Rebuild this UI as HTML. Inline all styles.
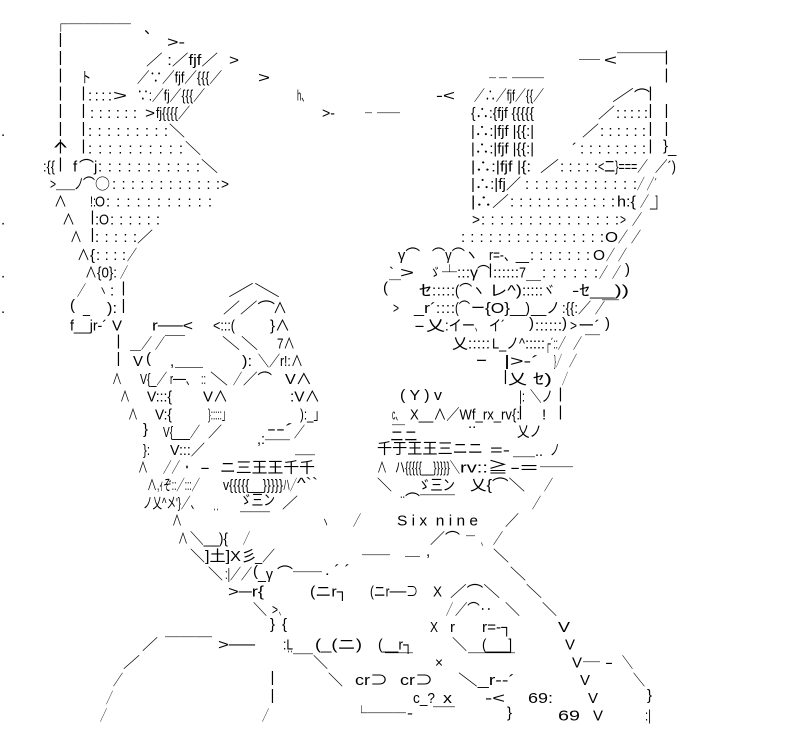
<!DOCTYPE html>
<html><head><meta charset="utf-8"><style>
html,body{margin:0;padding:0;background:#fff}
svg{display:block}
text{font-family:"Liberation Sans","Noto Sans CJK JP",sans-serif;font-size:15px;fill:#000;white-space:pre}
.j{font-family:"Noto Sans CJK JP","Liberation Sans",sans-serif}
</style></head><body>
<svg xmlns="http://www.w3.org/2000/svg" width="799" height="750" viewBox="0 0 799 750">
<rect width="799" height="750" fill="#fff"/>
<!-- R0 -->
<text class="j" x="53" y="29.7" textLength="78" lengthAdjust="spacingAndGlyphs">┌────</text>
<text class="j" x="144" y="33">、</text>
<!-- left bar rows 1-8 -->
<text x="58.5" y="44.2">|</text><text x="58.5" y="61.9">|</text><text x="58.5" y="79.7">|</text><text x="58.5" y="97.4">|</text><text x="58.5" y="115.1">|</text><text x="58.5" y="132.8">|</text><text x="58.5" y="150.5">|</text><text x="58.5" y="168.3">|</text>
<!-- R1 -->
<text x="167" y="47.2" textLength="18" lengthAdjust="spacingAndGlyphs">&gt;‐</text>
<!-- R2 -->
<text x="146" y="64.9" textLength="72" lengthAdjust="spacingAndGlyphs">／ :／fjf／</text>
<text x="229" y="64.9" textLength="10" lengthAdjust="spacingAndGlyphs">&gt;</text>
<text class="j" x="579" y="65.1" textLength="21" lengthAdjust="spacingAndGlyphs">──</text>
<text x="604" y="64.9" textLength="13" lengthAdjust="spacingAndGlyphs">&lt;</text>
<text class="j" x="617" y="58.7" textLength="50" lengthAdjust="spacingAndGlyphs">────</text>
<text x="664.5" y="61.5">|</text>
<!-- R3 -->
<text x="664.5" y="79.7">|</text>
<text class="j" x="81" y="82.7" textLength="10" lengthAdjust="spacingAndGlyphs">ト</text>
<text x="137" y="82.7" textLength="85" lengthAdjust="spacingAndGlyphs">／∵／fjf／{{{／</text>
<text x="258" y="82.7" textLength="12" lengthAdjust="spacingAndGlyphs">&gt;</text>
<text class="j" x="489" y="83.7" textLength="7" lengthAdjust="spacingAndGlyphs">─</text>
<text class="j" x="499" y="83.7" textLength="8" lengthAdjust="spacingAndGlyphs">─</text>
<text class="j" x="512" y="83.7" textLength="32" lengthAdjust="spacingAndGlyphs">──</text>
<!-- R4 -->
<text x="81.5" y="97.4">|</text>
<text x="88" y="100.4" textLength="24" lengthAdjust="spacing">::::</text>
<text x="113" y="100.4" textLength="14" lengthAdjust="spacingAndGlyphs">&gt;</text>
<text x="137" y="100.4" textLength="68" lengthAdjust="spacingAndGlyphs">∵:／fj／{{{／</text>
<text x="297" y="100.4" textLength="12" lengthAdjust="spacingAndGlyphs">h、</text>
<text x="436" y="100.4" textLength="19" lengthAdjust="spacingAndGlyphs">‐&lt;</text>
<text x="474" y="100.4" textLength="70" lengthAdjust="spacingAndGlyphs">／∴／fjf／{{／</text>
<text class="j" x="612" y="100.4" textLength="22" lengthAdjust="spacingAndGlyphs">／</text>
<text class="j" x="634" y="101" textLength="16" lengthAdjust="spacingAndGlyphs">⌒</text>
<text x="648.5" y="97.4">|</text>
<!-- R5 -->
<text x="81.5" y="115.1">|</text>
<text x="90" y="118.1" textLength="47" lengthAdjust="spacing">::::::</text>
<text x="145" y="118.1" textLength="10" lengthAdjust="spacingAndGlyphs">&gt;</text>
<text x="156" y="118.1" textLength="34" lengthAdjust="spacingAndGlyphs">fj{{{{／</text>
<text x="322" y="118.1" textLength="13" lengthAdjust="spacingAndGlyphs">&gt;‐</text>
<text class="j" x="365" y="118.7" textLength="7" lengthAdjust="spacingAndGlyphs">─</text>
<text class="j" x="377" y="118.7" textLength="23" lengthAdjust="spacingAndGlyphs">──</text>
<text x="471" y="118.1" textLength="63" lengthAdjust="spacingAndGlyphs">{∴:{fjf {{{{{</text>
<text x="598" y="118.1" textLength="17" lengthAdjust="spacingAndGlyphs">／</text>
<text x="616" y="118.1" textLength="32" lengthAdjust="spacing">:::::</text>
<text x="648.5" y="115.1">|</text>
<text x="664.5" y="115.1">|</text>
<!-- R6 -->
<text x="1" y="135.8">.</text>
<text x="81.5" y="132.8">|</text>
<text x="88" y="135.8" textLength="80" lengthAdjust="spacing">:::::::::</text>
<text x="169" y="135.8" textLength="16" lengthAdjust="spacingAndGlyphs">＼</text>
<text x="471" y="135.8" textLength="63" lengthAdjust="spacingAndGlyphs">|∴:|fjf |{{:|</text>
<text x="582" y="135.8" textLength="17" lengthAdjust="spacingAndGlyphs">／</text>
<text x="600" y="135.8" textLength="46" lengthAdjust="spacing">::::::</text>
<text x="648.5" y="132.8">|</text>
<text x="664.5" y="132.8">|</text>
<!-- R7 -->
<text x="54" y="152.5" textLength="13" lengthAdjust="spacingAndGlyphs">^</text>
<text x="81.5" y="150.5">|</text>
<text x="88" y="153.5" textLength="95" lengthAdjust="spacing">::::::::::</text>
<text x="185" y="153.5" textLength="16" lengthAdjust="spacingAndGlyphs">＼</text>
<text x="471" y="153.5" textLength="63" lengthAdjust="spacingAndGlyphs">|∴:|fjf |{{:|</text>
<text x="572" y="153.5">´</text>
<text x="580" y="153.5" textLength="66" lengthAdjust="spacing">::::::::</text>
<text x="648.5" y="150.5">|</text>
<text x="663" y="150.5">}</text>
<text x="668" y="153">_</text>
<!-- R8 -->
<text x="43" y="171.3" textLength="12" lengthAdjust="spacingAndGlyphs">:{{</text>
<text x="73" y="171.3">f</text>
<text class="j" x="79" y="171.3" textLength="15" lengthAdjust="spacingAndGlyphs">⌒</text>
<text x="94" y="171.3">j</text>
<text x="98" y="171.3" textLength="102" lengthAdjust="spacing">:::::::::::</text>
<text x="201" y="171.3" textLength="17" lengthAdjust="spacingAndGlyphs">＼</text>
<text x="471" y="171.3" textLength="60" lengthAdjust="spacingAndGlyphs">|∴:|fjf |{:</text>
<text x="540" y="171.3" textLength="19" lengthAdjust="spacingAndGlyphs">／</text>
<text x="560" y="171.3" textLength="38" lengthAdjust="spacing">:::::</text>
<text x="598" y="171.3" textLength="50" lengthAdjust="spacingAndGlyphs">&lt;二}===／</text>
<text x="655" y="171.3" textLength="21" lengthAdjust="spacingAndGlyphs">／´)</text>
<!-- R9 -->
<text x="50" y="189" textLength="6" lengthAdjust="spacingAndGlyphs">&gt;</text>
<text class="j" x="56" y="195.7" textLength="19" lengthAdjust="spacingAndGlyphs">─</text>
<text class="j" x="74" y="189" textLength="10" lengthAdjust="spacingAndGlyphs">ノ</text>
<text class="j" x="83" y="189" textLength="12" lengthAdjust="spacingAndGlyphs">⌒</text>
<text class="j" x="95" y="189" textLength="15" lengthAdjust="spacingAndGlyphs">○</text>
<text x="112" y="189" textLength="108" lengthAdjust="spacing">::::::::::::</text>
<text x="221" y="189" textLength="8" lengthAdjust="spacingAndGlyphs">&gt;</text>
<text x="471" y="189" textLength="50" lengthAdjust="spacingAndGlyphs">|∴:|fj／</text>
<text x="525" y="189" textLength="112" lengthAdjust="spacing">::::::::::::</text>
<text x="637" y="189" textLength="20" lengthAdjust="spacingAndGlyphs">／ ／´</text>
<!-- R10 -->
<text x="54" y="206.7" textLength="13" lengthAdjust="spacingAndGlyphs">∧</text>
<text x="90" y="206.7" textLength="6" lengthAdjust="spacingAndGlyphs">!:</text>
<text x="95" y="206.7" textLength="10" lengthAdjust="spacingAndGlyphs">O</text>
<text x="106" y="206.7" textLength="106" lengthAdjust="spacing">:::::::::::</text>
<text x="471" y="206.7" textLength="38" lengthAdjust="spacingAndGlyphs">|∴／</text>
<text x="510" y="206.7" textLength="105" lengthAdjust="spacing">::::::::::::</text>
<text x="617" y="206.7" textLength="19" lengthAdjust="spacingAndGlyphs">h:{</text>
<text x="640" y="206.7" textLength="9" lengthAdjust="spacingAndGlyphs">／</text>
<text x="650" y="206.7" textLength="8" lengthAdjust="spacingAndGlyphs">_]</text>
<!-- R11 -->
<text x="1" y="224.4">.</text>
<text x="62" y="224.4" textLength="13" lengthAdjust="spacingAndGlyphs">∧</text>
<text x="90.5" y="221.4">|</text>
<text x="95" y="224.4">:</text>
<text x="99" y="224.4" textLength="10" lengthAdjust="spacingAndGlyphs">O</text>
<text x="110" y="224.4" textLength="50" lengthAdjust="spacing">::::::</text>
<text x="472" y="224.4" textLength="8" lengthAdjust="spacingAndGlyphs">&gt;</text>
<text x="481" y="224.4" textLength="138" lengthAdjust="spacing">:::::::::::::::</text>
<text x="620" y="224.4" textLength="6" lengthAdjust="spacingAndGlyphs">&gt;</text>
<text x="632" y="224.4" textLength="10" lengthAdjust="spacingAndGlyphs">／</text>
<!-- R12 -->
<text x="70" y="242.1" textLength="12" lengthAdjust="spacingAndGlyphs">∧</text>
<text x="90.5" y="239.1">|</text>
<text x="95" y="242.1" textLength="42" lengthAdjust="spacing">:::::</text>
<text x="137" y="242.1" textLength="16" lengthAdjust="spacingAndGlyphs">／</text>
<text x="461" y="242.1" textLength="143" lengthAdjust="spacing">::::::::::::::::</text>
<text x="605" y="242.1" textLength="13" lengthAdjust="spacingAndGlyphs">O</text>
<text x="618" y="242.1" textLength="10" lengthAdjust="spacingAndGlyphs">／</text>
<text x="631" y="242.1" textLength="10" lengthAdjust="spacingAndGlyphs">／</text>
<!-- R13 -->
<text x="77" y="259.9" textLength="13" lengthAdjust="spacingAndGlyphs">∧</text>
<text x="90" y="259.9" textLength="5" lengthAdjust="spacingAndGlyphs">{</text>
<text x="96" y="259.9" textLength="30" lengthAdjust="spacing">::::</text>
<text x="127" y="259.9" textLength="10" lengthAdjust="spacingAndGlyphs">／</text>
<text x="398" y="259.9" textLength="22" lengthAdjust="spacingAndGlyphs">γ⌒</text>
<text x="432" y="259.9" textLength="46" lengthAdjust="spacingAndGlyphs">⌒γ⌒ヽ</text>
<text x="489" y="259.9" textLength="40" lengthAdjust="spacingAndGlyphs">r=‐、__</text>
<text x="530" y="259.9" textLength="60" lengthAdjust="spacing">:::::::</text>
<text x="593" y="259.9" textLength="12" lengthAdjust="spacingAndGlyphs">O</text>
<text x="606" y="259.9" textLength="9" lengthAdjust="spacingAndGlyphs">／</text>
<text x="618" y="259.9" textLength="9" lengthAdjust="spacingAndGlyphs">／</text>
<!-- R14 -->
<text x="1" y="277.6">.</text>
<text x="85" y="277.6" textLength="12" lengthAdjust="spacingAndGlyphs">∧</text>
<text x="97" y="277.6" textLength="20" lengthAdjust="spacingAndGlyphs">{0}:</text>
<text x="120" y="277.6" textLength="8" lengthAdjust="spacingAndGlyphs">／</text>
<text x="389" y="277.6">`</text>
<text x="400" y="277.6" textLength="14" lengthAdjust="spacingAndGlyphs">&gt;</text>
<text x="430" y="277.6" textLength="10" lengthAdjust="spacingAndGlyphs">ゞ</text>
<text class="j" x="442" y="277.6" textLength="15" lengthAdjust="spacingAndGlyphs">┴</text>
<text x="457" y="277.6" textLength="13" lengthAdjust="spacing">:::</text>
<text x="470" y="277.6" textLength="8" lengthAdjust="spacingAndGlyphs">γ</text>
<text x="477" y="277.6" textLength="13" lengthAdjust="spacingAndGlyphs">⌒</text>
<text x="488.5" y="274.6">|</text>
<text x="493" y="277.6" textLength="26" lengthAdjust="spacing">::::::</text>
<text x="519" y="277.6" textLength="7" lengthAdjust="spacingAndGlyphs">7</text>
<text class="j" x="526" y="286" textLength="15" lengthAdjust="spacingAndGlyphs">─</text>
<text x="542" y="277.6" textLength="56" lengthAdjust="spacing">::::::</text>
<text x="599" y="277.6" textLength="9" lengthAdjust="spacingAndGlyphs">／</text>
<text x="612" y="277.6" textLength="9" lengthAdjust="spacingAndGlyphs">／</text>
<text x="625" y="274">)</text>
<!-- R15 -->
<text x="77" y="295.3" textLength="9" lengthAdjust="spacingAndGlyphs">／</text>
<text x="99" y="295.3" textLength="8" lengthAdjust="spacingAndGlyphs">ヽ</text>
<text x="110" y="295.3">:</text>
<text x="121.5" y="292.3">|</text>
<text x="228" y="295.3" textLength="52" lengthAdjust="spacingAndGlyphs">／＼</text>
<text x="383" y="292.3">(</text>
<text class="j" x="389" y="285.7" textLength="12" lengthAdjust="spacingAndGlyphs">─</text>
<text x="419" y="295.3" textLength="13" lengthAdjust="spacingAndGlyphs">ｾ</text>
<text x="432" y="295.3" textLength="23" lengthAdjust="spacing">:::::</text>
<text x="455" y="295.3" textLength="30" lengthAdjust="spacingAndGlyphs">(⌒ヽ</text>
<text x="489" y="295.3" textLength="33" lengthAdjust="spacingAndGlyphs">レ^)</text>
<text x="522" y="295.3" textLength="21" lengthAdjust="spacing">:::::</text>
<text x="543" y="295.3" textLength="12" lengthAdjust="spacingAndGlyphs">ヾ</text>
<text x="572" y="295.3" textLength="57" lengthAdjust="spacingAndGlyphs">‐ｾ__))</text>
<!-- R16 -->
<text x="1" y="313">.</text>
<text x="70" y="310">(</text>
<text x="83" y="313" textLength="7" lengthAdjust="spacingAndGlyphs">_</text>
<text x="107" y="313" textLength="10" lengthAdjust="spacingAndGlyphs">):</text>
<text x="121.5" y="310">|</text>
<text x="223" y="313" textLength="17" lengthAdjust="spacingAndGlyphs">／</text>
<text x="240" y="313" textLength="35" lengthAdjust="spacingAndGlyphs">／⌒</text>
<text x="273" y="313" textLength="14" lengthAdjust="spacingAndGlyphs">∧</text>
<text x="393" y="313" textLength="6" lengthAdjust="spacingAndGlyphs">&gt;</text>
<text x="414" y="313" textLength="22" lengthAdjust="spacingAndGlyphs">_r´</text>
<text x="436" y="313" textLength="19" lengthAdjust="spacing">::::</text>
<text x="455" y="313" textLength="15" lengthAdjust="spacingAndGlyphs">(⌒</text>
<text x="471" y="313" textLength="14" lengthAdjust="spacingAndGlyphs">ー</text>
<text x="485" y="313" textLength="25" lengthAdjust="spacingAndGlyphs">{O}</text>
<text x="510" y="313" textLength="20" lengthAdjust="spacingAndGlyphs">__)</text>
<text x="531" y="313" textLength="29" lengthAdjust="spacingAndGlyphs">__ノ</text>
<text x="562" y="313" textLength="29" lengthAdjust="spacingAndGlyphs">:{{:／</text>
<text x="595" y="313" textLength="10" lengthAdjust="spacingAndGlyphs">／</text>
<text class="j" x="602" y="305.7" textLength="17" lengthAdjust="spacingAndGlyphs">─</text>
<!-- R17 -->
<text x="70" y="330.7" textLength="37" lengthAdjust="spacingAndGlyphs">f__jr‐´</text>
<text x="112" y="330.7" textLength="10" lengthAdjust="spacingAndGlyphs">V</text>
<text x="152" y="330.7" textLength="41" lengthAdjust="spacingAndGlyphs">r──&lt;</text>
<text x="213" y="330.7" textLength="22" lengthAdjust="spacingAndGlyphs">&lt;:::(</text>
<text x="270" y="330.7" textLength="20" lengthAdjust="spacingAndGlyphs">}∧</text>
<text x="414" y="330.7" textLength="11" lengthAdjust="spacingAndGlyphs">‐</text>
<text x="426" y="330.7" textLength="19" lengthAdjust="spacingAndGlyphs">乂</text>
<text x="445" y="330.7" textLength="30" lengthAdjust="spacingAndGlyphs">:イー</text>
<text x="475" y="330.7" textLength="6" lengthAdjust="spacingAndGlyphs">、</text>
<text x="489" y="330.7" textLength="16" lengthAdjust="spacingAndGlyphs">イ´</text>
<text x="529" y="328">)</text>
<text x="535" y="330.7" textLength="27" lengthAdjust="spacing">::::::</text>
<text x="562" y="328">)</text>
<text x="570" y="330.7" textLength="7" lengthAdjust="spacingAndGlyphs">&gt;</text>
<text x="578" y="330.7" textLength="22" lengthAdjust="spacingAndGlyphs">ー´</text>
<text x="605" y="328">)</text>
<!-- R18 -->
<text x="116.5" y="345.5">|</text>
<text x="130" y="348.5" textLength="22" lengthAdjust="spacingAndGlyphs">＿／</text>
<text x="155" y="348.5" textLength="30" lengthAdjust="spacingAndGlyphs">／￣￣</text>
<text x="222" y="348.5" textLength="18" lengthAdjust="spacingAndGlyphs">＼</text>
<text x="241" y="348.5" textLength="17" lengthAdjust="spacingAndGlyphs">＼</text>
<text x="277" y="348.5" textLength="18" lengthAdjust="spacingAndGlyphs">7∧</text>
<text x="452" y="348.5" textLength="16" lengthAdjust="spacingAndGlyphs">乂</text>
<text x="468" y="348.5" textLength="22" lengthAdjust="spacing">:::::</text>
<text x="492" y="348.5" textLength="33" lengthAdjust="spacingAndGlyphs">L_ノ^</text>
<text x="525" y="348.5" textLength="20" lengthAdjust="spacing">:::::</text>
<text x="545" y="348.5" textLength="21" lengthAdjust="spacingAndGlyphs">┌´::／</text>
<text x="573" y="348.5" textLength="9" lengthAdjust="spacingAndGlyphs">／</text>
<text class="j" x="585" y="340.7" textLength="15" lengthAdjust="spacingAndGlyphs">─</text>
<!-- R19 -->
<text x="116.5" y="363.2">|</text>
<text x="133" y="366.2" textLength="10" lengthAdjust="spacingAndGlyphs">V</text>
<text x="146" y="363.2">(</text>
<text x="170" y="366.2">,</text>
<text class="j" x="175" y="373" textLength="28" lengthAdjust="spacingAndGlyphs">─</text>
<text x="242" y="366.2" textLength="10" lengthAdjust="spacingAndGlyphs">):</text>
<text x="258" y="366.2" textLength="22" lengthAdjust="spacingAndGlyphs">＼／</text>
<text x="280" y="366.2" textLength="23" lengthAdjust="spacingAndGlyphs">r!:∧</text>
<text x="476" y="366.2" textLength="11" lengthAdjust="spacingAndGlyphs">ー</text>
<text x="504" y="366.2" textLength="35" lengthAdjust="spacingAndGlyphs">|&gt;‐´</text>
<text x="554" y="366.2" textLength="8" lengthAdjust="spacingAndGlyphs">}／</text>
<text x="569" y="366.2" textLength="8" lengthAdjust="spacingAndGlyphs">／</text>
<!-- R20 -->
<text x="112" y="383.9" textLength="10" lengthAdjust="spacingAndGlyphs">∧</text>
<text x="140" y="383.9" textLength="27" lengthAdjust="spacingAndGlyphs">V{_／</text>
<text x="170" y="383.9" textLength="25" lengthAdjust="spacingAndGlyphs">r──、</text>
<text x="201" y="383.9" textLength="5" lengthAdjust="spacingAndGlyphs">::</text>
<text x="210" y="383.9" textLength="18" lengthAdjust="spacingAndGlyphs">＼</text>
<text x="233" y="383.9" textLength="9" lengthAdjust="spacingAndGlyphs">／</text>
<text x="243" y="383.9" textLength="29" lengthAdjust="spacingAndGlyphs">／⌒</text>
<text x="285" y="383.9" textLength="27" lengthAdjust="spacingAndGlyphs">V∧</text>
<text x="503.5" y="381">|</text>
<text x="508" y="383.9" textLength="19" lengthAdjust="spacingAndGlyphs">乂</text>
<text x="533" y="383.9" textLength="19" lengthAdjust="spacingAndGlyphs">ｾ)</text>
<text x="562" y="383.9" textLength="6" lengthAdjust="spacingAndGlyphs">／</text>
<!-- R21 -->
<text x="120" y="401.6" textLength="10" lengthAdjust="spacingAndGlyphs">∧</text>
<text x="147" y="401.6" textLength="25" lengthAdjust="spacingAndGlyphs">V:::{</text>
<text x="203" y="401.6" textLength="25" lengthAdjust="spacingAndGlyphs">V∧</text>
<text x="290" y="401.6" textLength="30" lengthAdjust="spacingAndGlyphs">:V∧</text>
<text x="400" y="400" textLength="42" lengthAdjust="spacingAndGlyphs">( Y ) v</text>
<text x="519" y="401.6" textLength="6" lengthAdjust="spacingAndGlyphs">|:</text>
<text x="530" y="401.6" textLength="23" lengthAdjust="spacingAndGlyphs">＼ノ</text>
<text x="558.5" y="398.6">|</text>
<!-- R22 -->
<text x="128" y="419.3" textLength="10" lengthAdjust="spacingAndGlyphs">∧</text>
<text x="155" y="419.3" textLength="17" lengthAdjust="spacingAndGlyphs">V:{</text>
<text x="208" y="419.3" textLength="22" lengthAdjust="spacingAndGlyphs">}:::::」</text>
<text x="300" y="419.3" textLength="25" lengthAdjust="spacingAndGlyphs">):_」</text>
<text x="392" y="419.3" textLength="10" lengthAdjust="spacingAndGlyphs">c、</text>
<text class="j" x="392" y="430.7" textLength="13" lengthAdjust="spacingAndGlyphs">─</text>
<text x="410" y="419.3" textLength="110" lengthAdjust="spacingAndGlyphs">X__∧／Wf_rx_rv{:</text>
<text x="518.5" y="416.3">|</text>
<text x="542" y="419.3">!</text>
<text x="558.5" y="416.3">|</text>
<text x="468" y="428">..</text>
<!-- R23 -->
<text x="143" y="434.1">}</text>
<text x="163" y="437.1" textLength="37" lengthAdjust="spacingAndGlyphs">V{___／</text>
<text x="208" y="437.1" textLength="14" lengthAdjust="spacingAndGlyphs">／</text>
<text x="267" y="434" textLength="27" lengthAdjust="spacingAndGlyphs">‐‐´</text>
<text x="294" y="437.1" textLength="11" lengthAdjust="spacingAndGlyphs">／</text>
<text x="257" y="444" textLength="8" lengthAdjust="spacingAndGlyphs">,:</text>
<text class="j" x="265" y="445.7" textLength="25" lengthAdjust="spacingAndGlyphs">─</text>
<text class="j" x="390" y="441" textLength="28" lengthAdjust="spacingAndGlyphs">ニニ</text>
<text x="517" y="436.5" textLength="25" lengthAdjust="spacingAndGlyphs">乂ノ</text>
<!-- R24 -->
<text x="143" y="454.8" textLength="7" lengthAdjust="spacingAndGlyphs">}:</text>
<text x="170" y="454.8" textLength="35" lengthAdjust="spacingAndGlyphs">V:::／</text>
<text x="377" y="453.7" textLength="106" lengthAdjust="spacingAndGlyphs">千于王王三ニニ</text>
<text x="490" y="454.8" textLength="20" lengthAdjust="spacingAndGlyphs">=‐</text>
<text class="j" x="513" y="462.7" textLength="22" lengthAdjust="spacingAndGlyphs">─</text>
<text x="535" y="456" textLength="8" lengthAdjust="spacingAndGlyphs">..</text>
<text x="550" y="454.8" textLength="10" lengthAdjust="spacingAndGlyphs">ノ</text>
<!-- R25 -->
<text x="138" y="472.5" textLength="10" lengthAdjust="spacingAndGlyphs">∧</text>
<text x="163" y="472.5" textLength="17" lengthAdjust="spacingAndGlyphs">／／</text>
<text x="183" y="472.5" textLength="8" lengthAdjust="spacingAndGlyphs">・</text>
<text x="200" y="472.5" textLength="10" lengthAdjust="spacingAndGlyphs">‐</text>
<text x="220" y="472.5" textLength="95" lengthAdjust="spacingAndGlyphs">ニ三王王千千</text>
<text class="j" x="295" y="460.7" textLength="20" lengthAdjust="spacingAndGlyphs">─</text>
<text x="377" y="472.5" textLength="10" lengthAdjust="spacingAndGlyphs">∧</text>
<text x="395" y="472.5" textLength="65" lengthAdjust="spacingAndGlyphs">ハ{{{{{__}}}}}＼</text>
<text x="460" y="472.5" textLength="48" lengthAdjust="spacingAndGlyphs">rv::≧</text>
<text x="510" y="472.5" textLength="28" lengthAdjust="spacingAndGlyphs">‐=</text>
<text class="j" x="540" y="472.7" textLength="33" lengthAdjust="spacingAndGlyphs">───</text>
<!-- R26 -->
<text x="147" y="490.2" textLength="10" lengthAdjust="spacingAndGlyphs">∧</text>
<text x="157" y="490.2" textLength="43" lengthAdjust="spacingAndGlyphs">,ｨぞ::／:::／</text>
<text x="223" y="490.2" textLength="60" lengthAdjust="spacingAndGlyphs">v{{{{{__}}}}}</text>
<text x="283" y="490.2" textLength="14" lengthAdjust="spacingAndGlyphs">ハ／</text>
<text x="297" y="488" textLength="21" lengthAdjust="spacingAndGlyphs">^``</text>
<text x="377" y="490.2" textLength="15" lengthAdjust="spacingAndGlyphs">＼</text>
<text x="418" y="490.2" textLength="37" lengthAdjust="spacingAndGlyphs">ゞ三ン</text>
<text x="470" y="490.2" textLength="55" lengthAdjust="spacingAndGlyphs">乂{⌒＼</text>
<text x="544" y="490.2" textLength="9" lengthAdjust="spacingAndGlyphs">／</text>
<!-- R27 -->
<text x="143" y="507.9" textLength="57" lengthAdjust="spacingAndGlyphs">ノ乂^メ'}／、</text>
<text x="213" y="515" textLength="6" lengthAdjust="spacingAndGlyphs">‥</text>
<text x="240" y="505" textLength="35" lengthAdjust="spacingAndGlyphs">ゞ三ン</text>
<text x="282" y="507.9" textLength="16" lengthAdjust="spacingAndGlyphs">／</text>
<text class="j" x="240" y="517.7" textLength="30" lengthAdjust="spacingAndGlyphs">─</text>
<text x="400" y="498" textLength="5" lengthAdjust="spacingAndGlyphs">..</text>
<text class="j" x="405" y="505" textLength="15" lengthAdjust="spacingAndGlyphs">⌒</text>
<text class="j" x="420" y="500.7" textLength="35" lengthAdjust="spacingAndGlyphs">─</text>
<text x="532" y="507.9" textLength="9" lengthAdjust="spacingAndGlyphs">／</text>
<!-- R28 -->
<text x="172" y="525.7" textLength="10" lengthAdjust="spacingAndGlyphs">∧</text>
<text x="322" y="527" textLength="7" lengthAdjust="spacingAndGlyphs">ヽ</text>
<text x="353" y="525.7" textLength="8" lengthAdjust="spacingAndGlyphs">／</text>
<text x="397" y="525.7" textLength="81" lengthAdjust="spacingAndGlyphs">S i x  n i n e</text>
<text x="505" y="525.7" textLength="14" lengthAdjust="spacingAndGlyphs">／</text>
<!-- R29 -->
<text x="178" y="543.4" textLength="10" lengthAdjust="spacingAndGlyphs">∧</text>
<text x="190" y="543.4" textLength="38" lengthAdjust="spacingAndGlyphs">＼__){</text>
<text x="243" y="543.4" textLength="7" lengthAdjust="spacingAndGlyphs">／</text>
<text x="430" y="543.4" textLength="30" lengthAdjust="spacingAndGlyphs">／⌒</text>
<text class="j" x="466" y="541.7" textLength="9" lengthAdjust="spacingAndGlyphs">─</text>
<text x="481" y="545" textLength="5" lengthAdjust="spacingAndGlyphs">、</text>
<text x="493" y="543.4" textLength="10" lengthAdjust="spacingAndGlyphs">／</text>
<!-- R30 -->
<text x="190" y="561.1" textLength="15" lengthAdjust="spacingAndGlyphs">＼</text>
<text x="205" y="561.1" textLength="52" lengthAdjust="spacingAndGlyphs">]土]X彡</text>
<text x="255" y="561.1" textLength="20" lengthAdjust="spacingAndGlyphs">_／</text>
<text class="j" x="362" y="560.7" textLength="28" lengthAdjust="spacingAndGlyphs">──</text>
<text class="j" x="405" y="562" textLength="15" lengthAdjust="spacingAndGlyphs">─</text>
<text x="426" y="556">,</text>
<text x="493" y="561.1" textLength="16" lengthAdjust="spacingAndGlyphs">＼</text>
<!-- R31 -->
<text x="208" y="578.8" textLength="15" lengthAdjust="spacingAndGlyphs">＼</text>
<text x="225" y="578.8" textLength="5" lengthAdjust="spacingAndGlyphs">:|</text>
<text x="230" y="578.8" textLength="22" lengthAdjust="spacingAndGlyphs">／／</text>
<text x="253" y="575.8">(</text>
<text x="258" y="578.8" textLength="15" lengthAdjust="spacingAndGlyphs">_γ</text>
<text class="j" x="277" y="578" textLength="16" lengthAdjust="spacingAndGlyphs">⌒</text>
<text class="j" x="293" y="577.7" textLength="29" lengthAdjust="spacingAndGlyphs">──</text>
<text x="325" y="575" textLength="25" lengthAdjust="spacingAndGlyphs">. ´ ´</text>
<text x="510" y="578.8" textLength="16" lengthAdjust="spacingAndGlyphs">＼</text>
<!-- R32 -->
<text x="228" y="596.5" textLength="36" lengthAdjust="spacingAndGlyphs">&gt;─r{</text>
<text x="310" y="596.5" textLength="38" lengthAdjust="spacingAndGlyphs">(ニr┐</text>
<text x="370" y="596.5" textLength="48" lengthAdjust="spacingAndGlyphs">(ニr──⊃</text>
<text x="433" y="596.5" textLength="9" lengthAdjust="spacingAndGlyphs">X</text>
<text x="450" y="596.5" textLength="50" lengthAdjust="spacingAndGlyphs">／⌒＼</text>
<text x="526" y="596.5" textLength="16" lengthAdjust="spacingAndGlyphs">＼</text>
<!-- R33 -->
<text x="253" y="614.3" textLength="14" lengthAdjust="spacingAndGlyphs">＼</text>
<text x="272" y="614.3" textLength="6" lengthAdjust="spacingAndGlyphs">&gt;</text>
<text x="279" y="614.3" textLength="5" lengthAdjust="spacingAndGlyphs">、</text>
<text x="446" y="614.3" textLength="7" lengthAdjust="spacingAndGlyphs">／</text>
<text x="455" y="614.3" textLength="37" lengthAdjust="spacingAndGlyphs">／⌒‥</text>
<text x="505" y="614.3" textLength="15" lengthAdjust="spacingAndGlyphs">＼</text>
<text x="542" y="614.3" textLength="15" lengthAdjust="spacingAndGlyphs">＼</text>
<!-- R34 -->
<text x="270" y="629">}</text>
<text x="282" y="629">{</text>
<text x="430" y="632" textLength="8" lengthAdjust="spacingAndGlyphs">X</text>
<text x="450" y="632" textLength="5" lengthAdjust="spacingAndGlyphs">r</text>
<text x="482" y="632" textLength="30" lengthAdjust="spacingAndGlyphs">r=‐┐</text>
<text x="558" y="632" textLength="12" lengthAdjust="spacingAndGlyphs">V</text>
<!-- R35 -->
<text x="142" y="649.7" textLength="16" lengthAdjust="spacingAndGlyphs">／</text>
<text class="j" x="165" y="642.7" textLength="47" lengthAdjust="spacingAndGlyphs">───</text>
<text x="218" y="649.7" textLength="37" lengthAdjust="spacingAndGlyphs">&gt;──</text>
<text x="283" y="649.7" textLength="10" lengthAdjust="spacingAndGlyphs">:L</text>
<text x="315" y="649.7" textLength="47" lengthAdjust="spacingAndGlyphs">(_(ニ)</text>
<text x="378" y="649.7" textLength="35" lengthAdjust="spacingAndGlyphs">(__r┐</text>
<text class="j" x="385" y="658.7" textLength="28" lengthAdjust="spacingAndGlyphs">─</text>
<text x="452" y="649.7" textLength="15" lengthAdjust="spacingAndGlyphs">＼</text>
<text x="482" y="649.7" textLength="30" lengthAdjust="spacingAndGlyphs">(___]</text>
<text class="j" x="468" y="658.7" textLength="47" lengthAdjust="spacingAndGlyphs">──</text>
<text x="565" y="649.7" textLength="10" lengthAdjust="spacingAndGlyphs">V</text>
<!-- R36 -->
<text x="123" y="667.4" textLength="17" lengthAdjust="spacingAndGlyphs">／</text>
<text x="287" y="657" textLength="6" lengthAdjust="spacingAndGlyphs">‥</text>
<text class="j" x="293" y="659.7" textLength="20" lengthAdjust="spacingAndGlyphs">─</text>
<text x="313" y="667.4" textLength="15" lengthAdjust="spacingAndGlyphs">＼</text>
<text x="435" y="667.4" textLength="8" lengthAdjust="spacingAndGlyphs">×</text>
<text x="572" y="667.4" textLength="10" lengthAdjust="spacingAndGlyphs">V</text>
<text class="j" x="583" y="667.6" textLength="17" lengthAdjust="spacingAndGlyphs">──</text>
<text x="605" y="667.4" textLength="8" lengthAdjust="spacingAndGlyphs">‐</text>
<text x="622" y="667.4" textLength="11" lengthAdjust="spacingAndGlyphs">＼</text>
<!-- R37 -->
<text x="113" y="685.1" textLength="10" lengthAdjust="spacingAndGlyphs">／</text>
<text x="270.5" y="682.1">|</text>
<text x="328" y="685.1" textLength="15" lengthAdjust="spacingAndGlyphs">＼</text>
<text x="355" y="685.1" textLength="33" lengthAdjust="spacingAndGlyphs">cr⊃</text>
<text x="400" y="685.1" textLength="33" lengthAdjust="spacingAndGlyphs">cr⊃</text>
<text x="458" y="685.1" textLength="57" lengthAdjust="spacingAndGlyphs">＼_r‐‐´</text>
<text x="580" y="685.1" textLength="10" lengthAdjust="spacingAndGlyphs">V</text>
<text x="633" y="685.1" textLength="12" lengthAdjust="spacingAndGlyphs">＼</text>
<!-- R38 -->
<text x="106" y="702.9" textLength="7" lengthAdjust="spacingAndGlyphs">／</text>
<text x="270.5" y="699.9">|</text>
<text x="413" y="702.9" textLength="22" lengthAdjust="spacingAndGlyphs">c_?</text>
<text x="443" y="702.9" textLength="9" lengthAdjust="spacingAndGlyphs">x</text>
<text class="j" x="433" y="712.7" textLength="22" lengthAdjust="spacingAndGlyphs">─</text>
<text x="485" y="702.9" textLength="20" lengthAdjust="spacingAndGlyphs">‐&lt;</text>
<text x="528" y="702.9" textLength="25" lengthAdjust="spacingAndGlyphs">69:</text>
<text x="588" y="702.9" textLength="10" lengthAdjust="spacingAndGlyphs">V</text>
<text x="647" y="699.9">}</text>
<!-- R39 -->
<text x="100" y="720.6" textLength="7" lengthAdjust="spacingAndGlyphs">／</text>
<text x="262" y="720.6" textLength="7" lengthAdjust="spacingAndGlyphs">／</text>
<text class="j" x="355" y="718.7" textLength="51" lengthAdjust="spacingAndGlyphs">└───</text>
<text x="407" y="718" textLength="6" lengthAdjust="spacingAndGlyphs">‐</text>
<text x="507" y="717.6">}</text>
<text x="558" y="720.6" textLength="22" lengthAdjust="spacingAndGlyphs">69</text>
<text x="593" y="720.6" textLength="10" lengthAdjust="spacingAndGlyphs">V</text>
<text x="645" y="720.6" textLength="6" lengthAdjust="spacingAndGlyphs">:|</text>
</svg>
</body></html>
